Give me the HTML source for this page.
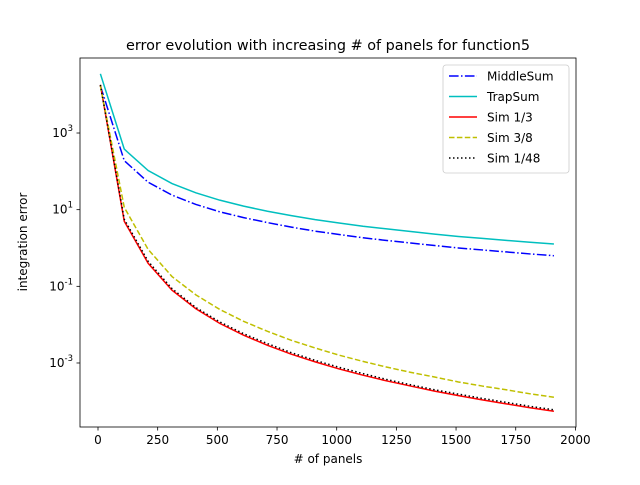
<!DOCTYPE html>
<html><head><meta charset="utf-8"><style>
body{margin:0;background:#fff;}
text{font-family:"DejaVu Sans","Liberation Sans",sans-serif;fill:#000;}
</style></head><body>
<svg id="chart" width="640" height="480" viewBox="0 0 640 480" xmlns="http://www.w3.org/2000/svg">
<rect width="640" height="480" fill="#fff"/>
<text x="328" y="50" font-size="14.4" text-anchor="middle">error evolution with increasing # of panels for function5</text>
<g id="grid"></g>
<text x="328" y="463" font-size="12" text-anchor="middle"># of panels</text>
<text transform="translate(27,242) rotate(-90)" font-size="12" text-anchor="middle">integration error</text>
</svg>
<script>
const panels=[10,110,210,310,410,510,610,710,810,910,1010,1110,1210,1310,1410,1510,1610,1710,1810,1910];
const middleSum=[1.7e4,190,52,24,13.7,8.8,6.2,4.6,3.5,2.75,2.25,1.85,1.57,1.35,1.16,1.0,0.89,0.79,0.70,0.63];
const trapSum=[3.5e4,380,105,48,27.5,17.7,12.4,9.1,7.0,5.5,4.5,3.7,3.15,2.7,2.3,2.0,1.78,1.58,1.41,1.27];
const sim13=[1.8e4,5.0,0.40,0.079,0.026,0.0108,0.0053,0.0029,0.0017,0.00107,0.0007,0.00048,0.00034,0.00025,0.000185,0.000141,0.000109,0.000086,0.000068,0.000055];
const sim38=[1.7e4,11.5,0.92,0.18,0.06,0.025,0.0122,0.0067,0.0039,0.00246,0.0016,0.0011,0.00078,0.00057,0.00043,0.00032,0.00025,0.0002,0.000157,0.000128];
const sim148=[1.8e4,5.6,0.45,0.087,0.028,0.0118,0.0058,0.0032,0.00186,0.00117,0.00077,0.00053,0.00037,0.00027,0.0002,0.000154,0.000119,0.000094,0.000074,0.00006];
const xTicks=[0,250,500,750,1000,1250,1500,1750,2000];
const yTicks=[-3,-1,1,3];
const L=80,R=576,T=58,B=427;
const xs=v=>98+v*0.2387;
const ys=v=>248-Math.log10(v)*38.33;
const NS="http://www.w3.org/2000/svg";
const g=document.getElementById('grid');
function mk(t,a,p){const e=document.createElementNS(NS,t);for(const k in a)e.setAttribute(k,a[k]);(p||g).appendChild(e);return e;}
const clip=mk('clipPath',{id:'cp'});mk('rect',{x:L,y:T,width:R-L,height:B-T},clip);
xTicks.forEach(v=>{const x=xs(v);
const t=mk('line',{x1:x,x2:x,y1:B,y2:B+3.5,stroke:'#000','stroke-width':0.8});


const l=mk('text',{x:x,y:B+17,'font-size':12,'text-anchor':'middle'});l.textContent=v;

});
yTicks.forEach(p=>{const y=ys(Math.pow(10,p));
const t=mk('line',{x1:L-3.5,x2:L,y1:y,y2:y,stroke:'#000','stroke-width':0.8});


const l=mk('text',{x:L-7,y:y+4,'font-size':12,'text-anchor':'end'});
l.innerHTML='10<tspan dy="-6" font-size="8.5">'+p+'</tspan>';

});
const series=[
{n:'MiddleSum',d:middleSum,c:'#0000ff',da:'9.6,2.4,1.5,2.4',name:'series-middlesum'},
{n:'TrapSum',d:trapSum,c:'#00bfbf',da:'',name:'series-trapsum'},
{n:'Sim 1/3',d:sim13,c:'#ff0000',da:'',name:'series-sim-1-3'},
{n:'Sim 3/8',d:sim38,c:'#bfbf00',da:'5.5,2.4',name:'series-sim-3-8'},
{n:'Sim 1/48',d:sim148,c:'#000000',da:'1.5,2.5',name:'series-sim-1-48'}];
series.forEach(s=>{const pts=s.d.map((v,i)=>xs(panels[i])+','+ys(v)).join(' ');
const pl=mk('polyline',{points:pts,fill:'none',stroke:s.c,'stroke-width':1.5,'stroke-dasharray':s.da,'clip-path':'url(#cp)'});

});
const fr=mk('rect',{x:L,y:T,width:R-L,height:B-T,fill:'none',stroke:'#000','stroke-width':0.8});


const lg=mk('g',{});


mk('rect',{x:443,y:65,width:126,height:108,rx:3,fill:'#fff','fill-opacity':0.8,stroke:'#ccc','stroke-width':0.8},lg);
series.forEach((s,i)=>{const y=76+i*20.5;
const e=mk('g',{},lg);


mk('line',{x1:449,x2:477,y1:y,y2:y,stroke:s.c,'stroke-width':1.5,'stroke-dasharray':s.da},e);
const t=mk('text',{x:487,y:y+4.5,'font-size':12},e);t.textContent=s.n;});
</script>
</body></html>
